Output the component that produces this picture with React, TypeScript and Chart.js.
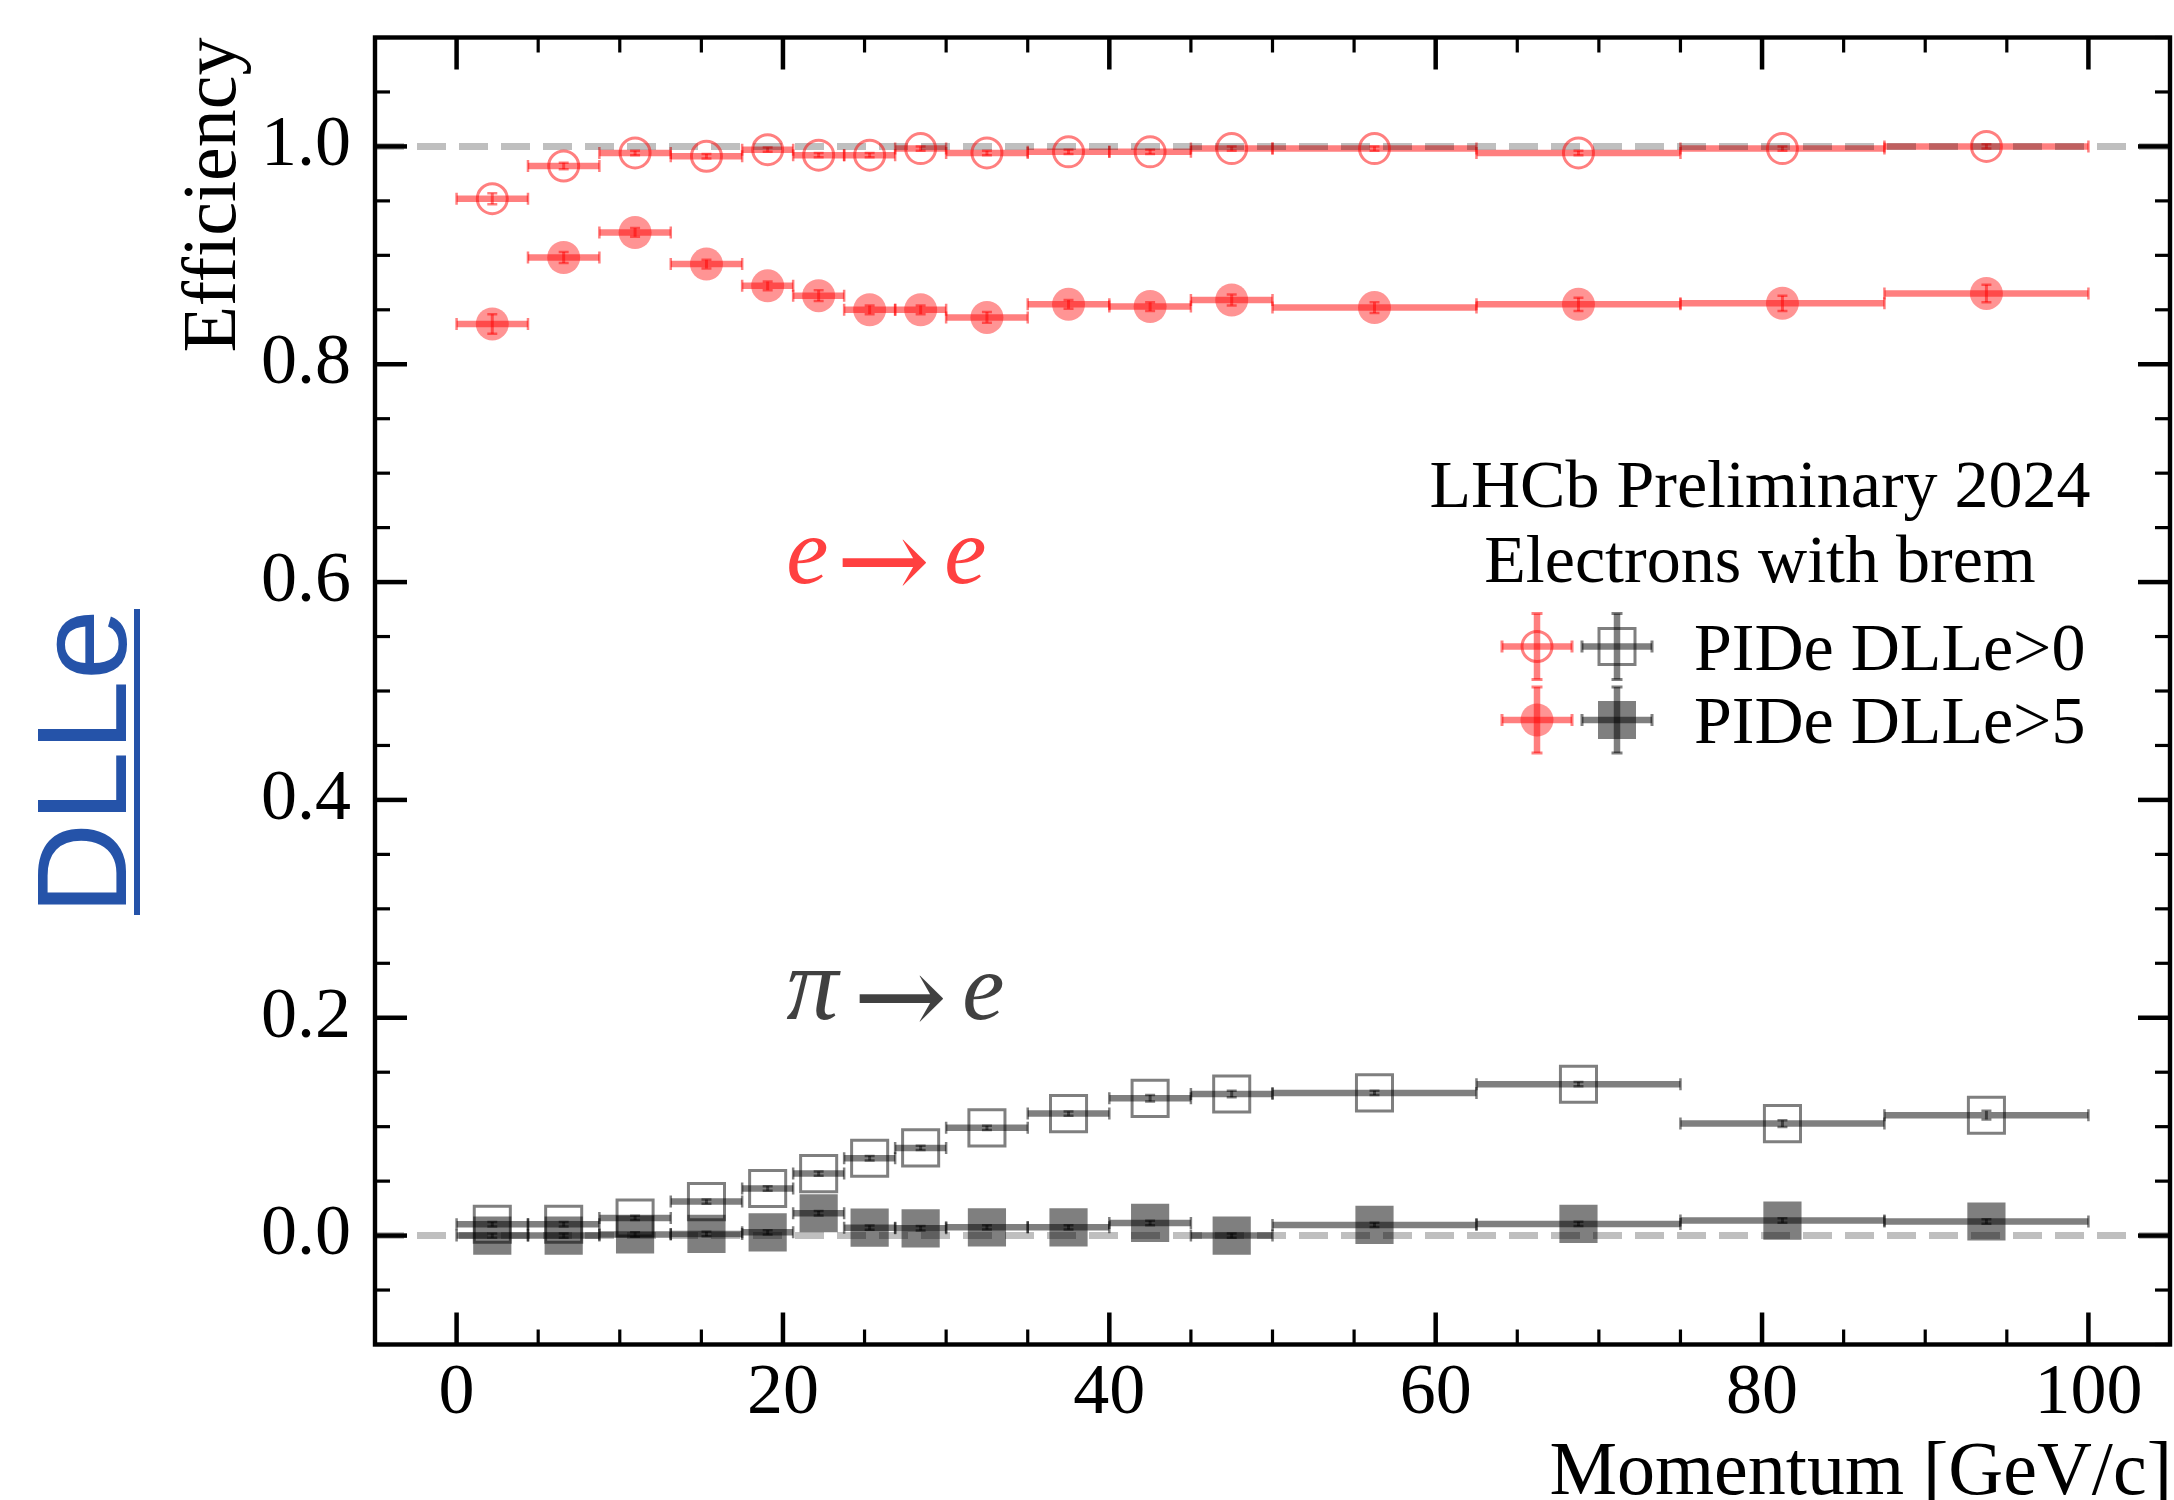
import React, { useEffect, useRef } from 'react';
import { Chart, registerables } from 'chart.js';

Chart.register(...registerables);

const SERIF = "'Liberation Serif', 'Times New Roman', serif";
const SANS = "'Liberation Sans', Arial, sans-serif";
const ARROW_FONT = "'DejaVu Serif', 'DejaVu Sans', serif";

// ---- data ----
const binLow = [0, 4.375, 8.75, 13.125, 17.5, 20.625, 23.75, 26.875, 30, 35, 40, 45, 50, 62.5, 75, 87.5];
const binHigh = [4.375, 8.75, 13.125, 17.5, 20.625, 23.75, 26.875, 30, 35, 40, 45, 50, 62.5, 75, 87.5, 100];
const binCenter = [2.1875, 6.5625, 10.9375, 15.3125, 19.0625, 22.1875, 25.3125, 28.4375, 32.5, 37.5, 42.5, 47.5, 56.25, 68.75, 81.25, 93.75];

const eDLL0 = [0.952, 0.982, 0.994, 0.991, 0.997, 0.992, 0.992, 0.998, 0.994, 0.995, 0.995, 0.998, 0.998, 0.994, 0.998, 1.0];
const eDLL0Err = [0.005, 0.003, 0.002, 0.002, 0.002, 0.002, 0.002, 0.002, 0.002, 0.002, 0.002, 0.002, 0.002, 0.002, 0.002, 0.002];
const eDLL5 = [0.837, 0.898, 0.921, 0.892, 0.872, 0.863, 0.85, 0.85, 0.843, 0.855, 0.853, 0.859, 0.852, 0.855, 0.856, 0.865];
const eDLL5Err = [0.009, 0.005, 0.004, 0.004, 0.004, 0.005, 0.004, 0.004, 0.005, 0.004, 0.004, 0.005, 0.005, 0.006, 0.007, 0.008];
const piDLL0 = [0.0104, 0.0104, 0.0162, 0.0312, 0.0432, 0.0569, 0.071, 0.0805, 0.0989, 0.112, 0.126, 0.13, 0.131, 0.139, 0.1028, 0.1105];
const piDLL0Err = [0.002, 0.002, 0.002, 0.002, 0.002, 0.002, 0.002, 0.002, 0.002, 0.002, 0.003, 0.003, 0.002, 0.002, 0.003, 0.004];
const piDLL5 = [0.0, 0.0, 0.001, 0.0015, 0.003, 0.0205, 0.0073, 0.0067, 0.0076, 0.0076, 0.0116, 0.0, 0.0098, 0.0107, 0.0138, 0.0129];
const piDLL5Err = [0.002, 0.002, 0.002, 0.002, 0.002, 0.002, 0.002, 0.002, 0.002, 0.002, 0.002, 0.002, 0.002, 0.002, 0.002, 0.002];

const refLevels = [1.0, 0.0];
const xRange = [-5, 105];
const yRange = [-0.1, 1.1];
const xTickValues = [0, 20, 40, 60, 80, 100];
const xTickLabels = ['0', '20', '40', '60', '80', '100'];
const yTickValues = [0, 0.2, 0.4, 0.6, 0.8, 1.0];
const yTickLabels = ['0.0', '0.2', '0.4', '0.6', '0.8', '1.0'];
const xMinorStep = 5;
const yMinorStep = 0.05;

const xTitle = 'Momentum [GeV/c]';
const yTitle = 'Efficiency';
const legendTitle = ['LHCb Preliminary 2024', 'Electrons with brem'];
const legendLabels = ['PIDe DLLe>0', 'PIDe DLLe>5'];
const sideLabel = 'DLLe';
// annotation anchors (data coordinates of the left end / baseline)
const eeLabelAt = { x: 20.2, y: 0.599 };
const pieLabelAt = { x: 20.2, y: 0.199 };

const RED = 'rgba(255,0,0,0.5)';
const RED_FILL = 'rgba(255,0,0,0.42)';
const GREY = 'rgba(0,0,0,0.5)';
const REF = 'rgba(0,0,0,0.25)';

const errSeries = [
  { values: eDLL0, errs: eDLL0Err, color: RED },
  { values: eDLL5, errs: eDLL5Err, color: RED },
  { values: piDLL0, errs: piDLL0Err, color: GREY },
  { values: piDLL5, errs: piDLL5Err, color: GREY },
];

function seg(ctx: CanvasRenderingContext2D, x1: number, y1: number, x2: number, y2: number) {
  ctx.beginPath();
  ctx.moveTo(x1, y1);
  ctx.lineTo(x2, y2);
  ctx.stroke();
}

const errorBarPlugin = {
  id: 'errorBars',
  beforeDatasetsDraw(chart: any) {
    const { ctx, chartArea, scales } = chart;
    const xs = scales.x;
    const ys = scales.y;
    ctx.save();
    ctx.beginPath();
    ctx.rect(chartArea.left, chartArea.top, chartArea.right - chartArea.left, chartArea.bottom - chartArea.top);
    ctx.clip();
    for (const s of errSeries) {
      ctx.strokeStyle = s.color;
      for (let i = 0; i < s.values.length; i++) {
        const v = s.values[i];
        const py = ys.getPixelForValue(v);
        const xl = xs.getPixelForValue(binLow[i]);
        const xh = xs.getPixelForValue(binHigh[i]);
        const px = xs.getPixelForValue(binCenter[i]);
        ctx.lineWidth = 6.5;
        seg(ctx, xl, py, xh, py);
        ctx.lineWidth = 2.5;
        seg(ctx, xl, py - 6, xl, py + 6);
        seg(ctx, xh, py - 6, xh, py + 6);
        const yl = ys.getPixelForValue(v - s.errs[i]);
        const yh = ys.getPixelForValue(v + s.errs[i]);
        ctx.lineWidth = 3;
        seg(ctx, px, yl, px, yh);
        ctx.lineWidth = 2.5;
        seg(ctx, px - 5, yl, px + 5, yl);
        seg(ctx, px - 5, yh, px + 5, yh);
      }
    }
    ctx.restore();
  },
};

const framePlugin = {
  id: 'frame',
  afterDraw(chart: any) {
    const { ctx, chartArea: a, scales } = chart;
    const xs = scales.x;
    const ys = scales.y;
    ctx.save();
    ctx.strokeStyle = '#000';
    const drawX = (v: number, len: number, lw: number) => {
      const p = xs.getPixelForValue(v);
      ctx.lineWidth = lw;
      seg(ctx, p, a.bottom, p, a.bottom - len);
      seg(ctx, p, a.top, p, a.top + len);
    };
    const drawY = (v: number, len: number, lw: number) => {
      const p = ys.getPixelForValue(v);
      ctx.lineWidth = lw;
      seg(ctx, a.left, p, a.left + len, p);
      seg(ctx, a.right, p, a.right - len, p);
    };
    for (let k = Math.ceil(xRange[0] / xMinorStep); k * xMinorStep <= xRange[1]; k++) {
      const v = k * xMinorStep;
      if (xTickValues.some((t) => Math.abs(t - v) < 1e-9)) continue;
      drawX(v, 15, 3.2);
    }
    for (const v of xTickValues) drawX(v, 32, 4.5);
    for (let k = Math.ceil(yRange[0] / yMinorStep - 1e-9); k * yMinorStep <= yRange[1] + 1e-9; k++) {
      const v = k * yMinorStep;
      if (yTickValues.some((t) => Math.abs(t - v) < 1e-9)) continue;
      drawY(v, 15, 3.2);
    }
    for (const v of yTickValues) drawY(v, 32, 4.5);
    ctx.lineWidth = 4.4;
    ctx.strokeRect(a.left, a.top, a.right - a.left, a.bottom - a.top);
    ctx.restore();
  },
};

function drawErrMarker(ctx: CanvasRenderingContext2D, x: number, y: number, color: string) {
  ctx.strokeStyle = color;
  ctx.lineWidth = 6.5;
  seg(ctx, x - 35, y, x + 35, y);
  seg(ctx, x, y - 33, x, y + 33);
  ctx.lineWidth = 3;
  seg(ctx, x - 35, y - 6, x - 35, y + 6);
  seg(ctx, x + 35, y - 6, x + 35, y + 6);
  seg(ctx, x - 5.5, y - 33, x + 5.5, y - 33);
  seg(ctx, x - 5.5, y + 33, x + 5.5, y + 33);
}

// draws "<first> → e" with the first glyph starting at x, baseline y
function drawMath(
  ctx: CanvasRenderingContext2D,
  x: number,
  y: number,
  color: string,
  first: string,
  firstSize: number,
  arrowDx: number,
  eDx: number,
) {
  ctx.fillStyle = color;
  ctx.textAlign = 'left';
  ctx.textBaseline = 'alphabetic';
  ctx.font = `italic ${firstSize}px ${SERIF}`;
  ctx.fillText(first, x, y);
  ctx.font = `112px ${ARROW_FONT}`;
  ctx.fillText('\u2192', x + arrowDx, y + 16);
  ctx.font = `italic 95px ${SERIF}`;
  ctx.fillText('e', x + eDx, y);
}

const textPlugin = {
  id: 'texts',
  afterDraw(chart: any) {
    const { ctx, chartArea: a, scales } = chart;
    const xs = scales.x;
    const ys = scales.y;
    ctx.save();
    ctx.fillStyle = '#000';
    ctx.font = `76px ${SERIF}`;
    ctx.textBaseline = 'alphabetic';
    ctx.textAlign = 'right';
    ctx.fillText(xTitle, a.right + 2, 1494);
    ctx.save();
    ctx.translate(a.left - 140, a.top);
    ctx.rotate(-Math.PI / 2);
    ctx.textAlign = 'right';
    ctx.fillText(yTitle, 0, 0);
    ctx.restore();

    drawMath(
      ctx,
      xs.getPixelForValue(eeLabelAt.x),
      ys.getPixelForValue(eeLabelAt.y),
      'rgba(255,0,0,0.75)',
      'e',
      95,
      50,
      158,
    );
    drawMath(
      ctx,
      xs.getPixelForValue(pieLabelAt.x),
      ys.getPixelForValue(pieLabelAt.y),
      'rgba(0,0,0,0.75)',
      '\u03c0',
      104,
      67,
      176,
    );

    const cx = a.right - 410;
    ctx.fillStyle = '#000';
    ctx.font = `68px ${SERIF}`;
    ctx.textAlign = 'center';
    ctx.fillText(legendTitle[0], cx, a.top + 469.5);
    ctx.fillText(legendTitle[1], cx, a.top + 544.5);
    const rows = [a.top + 609, a.top + 682.5];
    const redX = a.right - 633;
    const greyX = a.right - 553;
    rows.forEach((ry, r) => {
      drawErrMarker(ctx, redX, ry, RED);
      drawErrMarker(ctx, greyX, ry, GREY);
      if (r === 0) {
        ctx.strokeStyle = RED;
        ctx.lineWidth = 3;
        ctx.beginPath();
        ctx.arc(redX, ry, 15, 0, Math.PI * 2);
        ctx.stroke();
        ctx.strokeStyle = GREY;
        ctx.strokeRect(greyX - 18, ry - 18, 36, 36);
      } else {
        ctx.fillStyle = RED_FILL;
        ctx.beginPath();
        ctx.arc(redX, ry, 16.5, 0, Math.PI * 2);
        ctx.fill();
        ctx.fillStyle = GREY;
        ctx.fillRect(greyX - 19, ry - 19, 38, 38);
      }
      ctx.fillStyle = '#000';
      ctx.font = `68px ${SERIF}`;
      ctx.textAlign = 'left';
      ctx.fillText(legendLabels[r], a.right - 476, ry + 23);
    });

    ctx.save();
    ctx.fillStyle = '#2553a9';
    ctx.font = `128px ${SANS}`;
    ctx.translate(126, 762);
    ctx.rotate(-Math.PI / 2);
    ctx.textAlign = 'center';
    ctx.textBaseline = 'alphabetic';
    ctx.fillText(sideLabel, 0, 0);
    const w = ctx.measureText(sideLabel).width;
    ctx.fillRect(-w / 2, 8, w, 6);
    ctx.restore();

    ctx.restore();
  },
};

const zeroPadding = (s: any) => {
  s.paddingTop = 0;
  s.paddingBottom = 0;
  s.paddingLeft = 0;
  s.paddingRight = 0;
};

export default function App() {
  const ref = useRef<HTMLCanvasElement | null>(null);
  useEffect(() => {
    if (!ref.current) return;
    const pts = (vals: number[]) => vals.map((v, i) => ({ x: binCenter[i], y: v }));
    const chart = new Chart(ref.current, {
      type: 'scatter',
      data: {
        datasets: [
          {
            label: legendLabels[0] + ' e',
            data: pts(eDLL0),
            pointStyle: 'circle',
            pointRadius: 15,
            pointBorderWidth: 3,
            borderColor: RED,
            backgroundColor: 'rgba(0,0,0,0)',
          },
          {
            label: legendLabels[1] + ' e',
            data: pts(eDLL5),
            pointStyle: 'circle',
            pointRadius: 16.5,
            pointBorderWidth: 0,
            borderColor: 'rgba(0,0,0,0)',
            backgroundColor: RED_FILL,
          },
          {
            label: legendLabels[0] + ' pi',
            data: pts(piDLL0),
            pointStyle: 'rect',
            pointRadius: 25.5,
            pointBorderWidth: 3,
            borderColor: GREY,
            backgroundColor: 'rgba(0,0,0,0)',
          },
          {
            label: legendLabels[1] + ' pi',
            data: pts(piDLL5),
            pointStyle: 'rect',
            pointRadius: 27,
            pointBorderWidth: 0,
            borderColor: 'rgba(0,0,0,0)',
            backgroundColor: GREY,
          },
          ...refLevels.map((lv) => ({
            type: 'line' as const,
            label: 'ref ' + lv,
            data: [
              { x: xRange[0], y: lv },
              { x: xRange[1], y: lv },
            ],
            borderColor: REF,
            borderWidth: 7,
            borderDash: [29, 13],
            pointRadius: 0,
            showLine: true,
            fill: false,
          })),
        ],
      },
      options: {
        animation: false,
        responsive: false,
        devicePixelRatio: 1,
        events: [],
        layout: { autoPadding: false, padding: { top: 37.5, right: 4, left: 0, bottom: 0 } },
        plugins: { legend: { display: false }, tooltip: { enabled: false }, title: { display: false } },
        scales: {
          x: {
            type: 'linear',
            min: xRange[0],
            max: xRange[1],
            grid: { display: false, drawTicks: false },
            border: { display: false },
            ticks: {
              color: '#000',
              font: { family: SERIF, size: 72 },
              padding: 6,
              autoSkip: false,
              maxRotation: 0,
              minRotation: 0,
              callback: (v: any) => {
                const i = xTickValues.findIndex((t) => Math.abs(t - Number(v)) < 1e-9);
                return i >= 0 ? xTickLabels[i] : null;
              },
            },
            afterBuildTicks: (s: any) => {
              s.ticks = xTickValues.map((v) => ({ value: v }));
            },
            afterFit: (s: any) => {
              s.height = 155.5;
              zeroPadding(s);
            },
          },
          y: {
            type: 'linear',
            min: yRange[0],
            max: yRange[1],
            grid: { display: false, drawTicks: false },
            border: { display: false },
            ticks: {
              color: '#000',
              font: { family: SERIF, size: 72 },
              padding: 24,
              autoSkip: false,
              callback: (v: any) => {
                const i = yTickValues.findIndex((t) => Math.abs(t - Number(v)) < 1e-9);
                return i >= 0 ? yTickLabels[i] : null;
              },
            },
            afterBuildTicks: (s: any) => {
              s.ticks = yTickValues.map((v) => ({ value: v }));
            },
            afterFit: (s: any) => {
              s.width = 375;
              zeroPadding(s);
            },
          },
        },
      },
      plugins: [errorBarPlugin, framePlugin, textPlugin],
    } as any);
    return () => chart.destroy();
  }, []);
  return (
    <div style={{ position: 'absolute', left: 0, top: 0, width: 2174, height: 1500, background: '#fff' }}>
      <canvas ref={ref} width={2174} height={1500} style={{ display: 'block', width: 2174, height: 1500 }} />
    </div>
  );
}
